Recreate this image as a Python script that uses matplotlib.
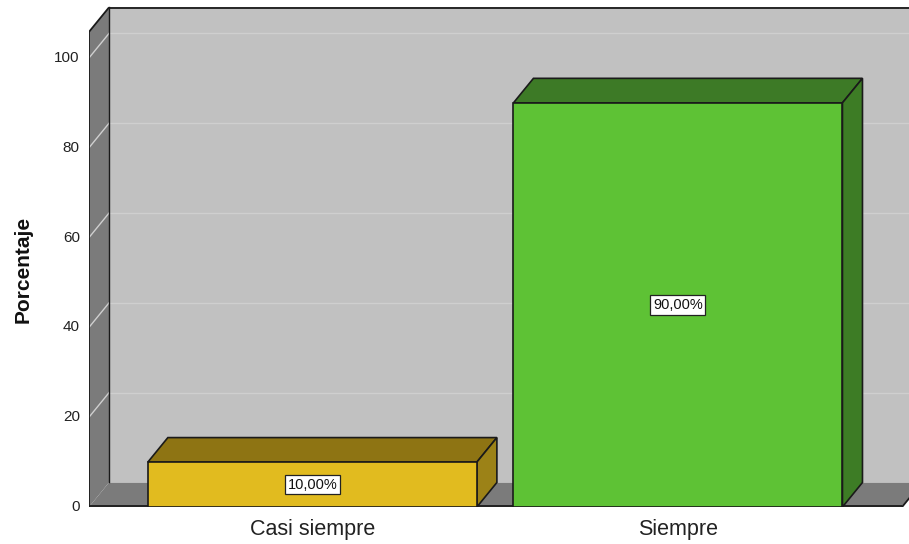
import matplotlib
matplotlib.use("Agg")
import matplotlib.pyplot as plt
from matplotlib.patches import Polygon

plt.rcParams["font.family"] = ["Liberation Sans", "DejaVu Sans"]

categories = ["Casi siempre", "Siempre"]
percentages = [10.0, 90.0]
bar_labels = ["10,00%", "90,00%"]
yticks = [0, 20, 40, 60, 80, 100]
ylabel = "Porcentaje"

front_colors = ["#e1bb1f", "#5ec235"]
top_colors = ["#8e7413", "#3d7a26"]
side_colors = ["#9c8217", "#3d7c25"]

fig = plt.figure(figsize=(9.09, 5.44), dpi=100)
fig.patch.set_facecolor("white")
ax = fig.add_axes([89 / 909, 37 / 544, 1 - 89 / 909, 1 - 37 / 544])
XMIN, XMAX = -0.611, 1.632
YMIN, YMAX = 0, 112.9
ax.set_xlim(XMIN, XMAX)
ax.set_ylim(YMIN, YMAX)
ax.axis("off")

DX = 20 / 365.5
DY = 24.5 / 4.49
WALL_TOP = 105.8
FRONT_RIGHT = 1.613
BW = 0.9

# back wall
ax.add_patch(Polygon([(XMIN + DX, DY), (XMAX + 1, DY), (XMAX + 1, WALL_TOP + DY),
                      (XMIN + DX, WALL_TOP + DY)], closed=True, facecolor="#c1c1c1",
                     edgecolor="none", zorder=1))
# gridlines on back wall
for t in yticks[1:]:
    ax.plot([XMIN + DX, XMAX + 1], [t + DY, t + DY], color="#cfcfcf", lw=1.0, zorder=2)
# left side wall
ax.add_patch(Polygon([(XMIN, 0), (XMIN + DX, DY), (XMIN + DX, WALL_TOP + DY), (XMIN, WALL_TOP)],
                     closed=True, facecolor="#7b7b7b", edgecolor="none", zorder=3))
for t in yticks[1:]:
    ax.plot([XMIN, XMIN + DX], [t, t + DY], color="#d0d0d0", lw=1.0, zorder=4)
# floor
ax.add_patch(Polygon([(XMIN, 0), (FRONT_RIGHT, 0), (FRONT_RIGHT + DX, DY), (XMIN + DX, DY)],
                     closed=True, facecolor="#7b7b7b", edgecolor="none", zorder=3))
# outlines
k = dict(color="#1a1a1a", lw=1.3, zorder=5, solid_capstyle="butt")
ax.plot([XMIN + 0.001, XMIN + 0.001], [0, WALL_TOP], **k)
ax.plot([XMIN, XMIN + DX], [WALL_TOP, WALL_TOP + DY], **k)
ax.plot([XMIN + DX, XMAX + 1], [WALL_TOP + DY - 0.2, WALL_TOP + DY - 0.2], **k)
ax.plot([XMIN + DX, XMIN + DX], [DY, WALL_TOP + DY], color="#1a1a1a", lw=1.0, zorder=5)
ax.plot([XMIN, FRONT_RIGHT], [0.15, 0.15], **k)
ax.plot([FRONT_RIGHT, FRONT_RIGHT + DX], [0, DY], **k)

# bars
xs = list(range(len(categories)))
bars = ax.bar(xs, percentages, width=BW, color=front_colors, edgecolor="#1a1a1a",
              linewidth=1.2, zorder=10)
for i, (x, v) in enumerate(zip(xs, percentages)):
    l, r = x - BW / 2, x + BW / 2
    ax.add_patch(Polygon([(l, v), (r, v), (r + DX, v + DY), (l + DX, v + DY)], closed=True,
                         facecolor=top_colors[i], edgecolor="#1a1a1a", lw=1.2, zorder=9))
    ax.add_patch(Polygon([(r, 0), (r + DX, DY), (r + DX, v + DY), (r, v)], closed=True,
                         facecolor=side_colors[i], edgecolor="#1a1a1a", lw=1.2, zorder=9))
    ax.text(x, v / 2, bar_labels[i], ha="center", va="center", fontsize=10.5, color="#111111",
            zorder=12, bbox=dict(boxstyle="square,pad=0.18", facecolor="white",
                                 edgecolor="#222222", lw=0.9))

# tick labels
for t in yticks:
    ax.text(XMIN - 0.025, t, str(t), ha="right", va="center", fontsize=11,
            color="#222222", clip_on=False)
for x, c in zip(xs, categories):
    ax.text(x, -5.0, c, ha="center", va="center", fontsize=15.5, color="#222222", clip_on=False)
ax.text(XMIN - 0.18, 52.8, ylabel, rotation=90, ha="center", va="center", fontsize=15,
        fontweight="bold", color="#111111", clip_on=False)

fig.savefig("out.png", dpi=100, facecolor="white")
